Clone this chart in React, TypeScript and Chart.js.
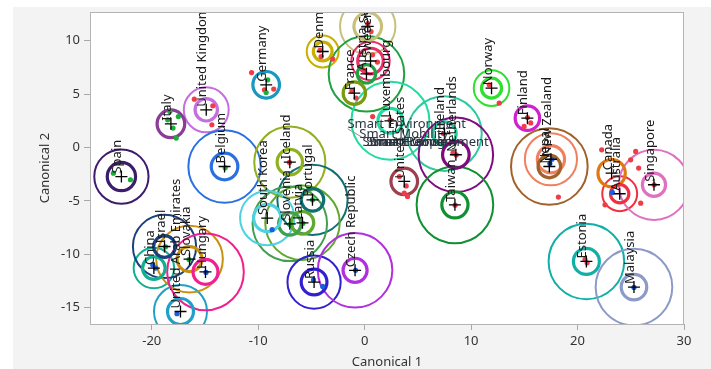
import { useEffect, useRef } from 'react';
import { Chart, registerables } from 'chart.js';

Chart.register(...registerables);

// ---------- data ----------
const countries = [
  'Spain', 'Italy', 'United Kingdom', 'Germany', 'Belgium', 'Denmark', 'Switzerland', 'Sweden',
  'Austria', 'France', 'Luxembourg', 'Ireland', 'Norway', 'Finland', 'New Zealand', 'Nepal',
  'Canada', 'Australia', 'Singapore', 'Netherlands', 'Taiwan', 'United States', 'Iceland',
  'Portugal', 'Latvia', 'Slovenia', 'South Korea', 'Russia', 'Czech Republic', 'Estonia',
  'Malaysia', 'China', 'Israel', 'United Arab Emirates', 'Slovakia', 'Hungary',
];
const centroidX = [
  -22.85, -18.2, -14.88, -9.25, -13.16, -3.94, 0.29, 0.55,
  0.17, -0.97, 2.42, 7.5, 11.92, 15.29, 17.5, 17.35,
  23.2, 23.96, 27.18, 8.57, 8.48, 3.72, -7.03,
  -4.9, -5.84, -7.03, -9.15, -4.75, -0.9, 20.83,
  25.3, -19.8, -18.8, -17.3, -16.45, -14.95,
];
const centroidY = [
  -2.72, 2.22, 3.53, 5.87, -1.78, 8.99, 11.35, 8.1,
  6.9, 5.09, 2.5, 1.3, 5.56, 2.75, -1.1, -1.78,
  -2.4, -4.33, -3.49, -0.68, -5.37, -3.18, -1.37,
  -4.9, -7.05, -7.15, -6.61, -12.6, -11.5, -10.67,
  -13.07, -11.29, -9.27, -15.36, -10.45, -11.65,
];
const innerRadius = [
  1.33, 1.3, 1.05, 1.25, 1.25, 0.88, 1.3, 1.2,
  0.86, 1.05, 1.17, 1.1, 0.94, 1.15, 1.28, 1.06,
  1.28, 0.86, 1.09, 1.25, 1.23, 1.25, 1.19,
  1.06, 1.06, 1.06, 1.28, 1.21, 1.13, 1.22,
  1.2, 1.06, 1.02, 1.22, 1.17, 1.17,
];
const outerRadius = [
  2.55, 1.3, 2.11, 1.25, 3.4, 1.5, 2.6, 1.8,
  3.55, 1.05, 3.66, 3.5, 1.67, 1.15, 2.45, 3.6,
  1.28, 1.64, 3.3, 3.5, 3.6, 1.25, 3.34,
  3.3, 3.5, 3.5, 2.55, 2.5, 3.5, 3.55,
  3.6, 1.9, 2.97, 2.49, 3.13, 3.6,
];
const groupColors = [
  '#3c1c6c', '#8a3c96', '#c46ee0', '#1a98c4', '#2a70e0', '#c8b000', '#c8c078', '#e8306c',
  '#20a040', '#7a9a10', '#20dca0', '#30c8a0', '#30e030', '#d020d0', '#f08060', '#a0622a',
  '#e07a10', '#f03040', '#e070c0', '#800a80', '#109030', '#9c4050', '#90b020',
  '#107070', '#60a830', '#40a050', '#50d0e0', '#3020d0', '#b030e0', '#10b0a8',
  '#8c9ac8', '#10b090', '#1a4080', '#20a0c8', '#c89010', '#f02090',
];

const redPointsX = [-10.62, -9.41, -8.54, -16.0, -14.26, -14.35, -4.09, -3.0, -4.2, 0.6, 0.75, -0.12, 0.3, 1.2, -0.81, -1.2, 0.75, 2.4, 11.7, 12.64, 14.98, 15.3, 15.6, 8.6, 8.3, 8.5, 3.72, 4.03, 3.26, 3.9, -7.06, 18.2, 22.27, 25.46, 24.99, 25.74, 22.58, 25.93, 27.2, 20.9, 20.7, 7.4];
const redPointsY = [7.02, 5.4, 5.47, 4.53, 3.9, 2.13, 8.52, 8.28, 9.1, 10.86, 8.68, 7.28, 11.6, 8.0, 4.63, 5.3, 2.9, 2.6, 5.87, 4.16, 1.97, 2.8, 2.3, -0.7, -0.5, -5.4, -4.27, -4.59, -2.72, -3.6, -1.4, -4.64, -0.22, -0.37, -1.15, -1.93, -5.37, -5.21, -3.5, -10.8, -10.5, 1.3];
const greenPointsX = [-18.3, -18.5, -18.0, -17.7, -17.5, -23.6, -22.0, -9.1, -9.25, -13.1, -4.9, -5.8, -7.0, -18.7, -16.5];
const greenPointsY = [3.37, 2.59, 1.82, 0.88, 2.9, -2.4, -3.02, 6.34, 5.15, -1.9, -4.9, -7.1, -7.2, -9.3, -10.5];
const bluePointsX = [17.6, 17.4, 23.27, 25.3, -0.85, -3.94, -4.8, -8.69, -19.63, -19.9, -17.63, -14.9];
const bluePointsY = [-1.1, -1.5, -4.21, -13.1, -11.5, -13.01, -12.4, -7.7, -11.29, -11.0, -15.57, -11.7];

const rayLabels = ['Smart Environment', 'Smart Mobility', 'Smart Economy', 'Smart People', 'Smart Living', 'Smart Government'];
const rayLabelX = [-1.62, -0.5, -0.2, 0.15, 0.4, 0.7];
const rayLabelY = [1.84, 0.91, 0.16, 0.16, 0.16, 0.16];
const rayStartX = [-1.6];
const rayStartY = [1.75];
const rayEndX = [-0.3];
const rayEndY = [1.0];

const xTicks = [-20, -10, 0, 10, 20, 30];
const yTicks = [-15, -10, -5, 0, 5, 10];
const xMin = -25.8;
const xMax = 30;
const yMin = -16.53;
const yMax = 12.69;

const FONT = "'Noto Sans', 'Segoe UI', sans-serif";

function pxRadius(chart: any, r: number) {
  const s = chart.scales.x;
  if (!s) return 0;
  return Math.abs(s.getPixelForValue(r) - s.getPixelForValue(0));
}

const backgroundPlugin = {
  id: 'bgPanel',
  beforeDraw(chart: any) {
    const { ctx, width, height, chartArea } = chart;
    ctx.save();
    ctx.fillStyle = '#ffffff';
    ctx.fillRect(0, 0, width, height);
    ctx.fillStyle = '#f3f3f3';
    ctx.fillRect(13, 7, width - 13, height - 7);
    ctx.fillStyle = '#ffffff';
    ctx.fillRect(chartArea.left, chartArea.top, chartArea.right - chartArea.left, chartArea.bottom - chartArea.top);
    ctx.restore();
  },
  afterDraw(chart: any) {
    const { ctx, chartArea } = chart;
    ctx.save();
    ctx.strokeStyle = '#b4b4b4';
    ctx.lineWidth = 1;
    ctx.strokeRect(chartArea.left + 0.5, chartArea.top + 0.5, chartArea.right - chartArea.left - 1, chartArea.bottom - chartArea.top);
    ctx.restore();
  },
};

const labelsPlugin = {
  id: 'groupLabels',
  afterDatasetsDraw(chart: any) {
    const { ctx, chartArea, scales } = chart;
    const xs = scales.x;
    const ys = scales.y;
    ctx.save();
    ctx.beginPath();
    ctx.rect(chartArea.left, chartArea.top, chartArea.right - chartArea.left, chartArea.bottom - chartArea.top);
    ctx.clip();
    // rays
    ctx.strokeStyle = '#909090';
    ctx.lineWidth = 1;
    for (let i = 0; i < rayStartX.length; i++) {
      ctx.beginPath();
      ctx.moveTo(xs.getPixelForValue(rayStartX[i]), ys.getPixelForValue(rayStartY[i]));
      ctx.lineTo(xs.getPixelForValue(rayEndX[i]), ys.getPixelForValue(rayEndY[i]));
      ctx.stroke();
    }
    ctx.font = `13px ${FONT}`;
    ctx.fillStyle = '#2a3440';
    ctx.textAlign = 'left';
    ctx.textBaseline = 'alphabetic';
    for (let i = 0; i < rayLabels.length; i++) {
      ctx.fillText(rayLabels[i], xs.getPixelForValue(rayLabelX[i]), ys.getPixelForValue(rayLabelY[i]));
    }
    // country labels, rotated
    ctx.fillStyle = '#1a1a1a';
    for (let i = 0; i < countries.length; i++) {
      const px = xs.getPixelForValue(centroidX[i]);
      const py = ys.getPixelForValue(centroidY[i]);
      ctx.save();
      ctx.translate(px, py - 3);
      ctx.rotate(-Math.PI / 2);
      ctx.fillText(countries[i], 0, 0);
      ctx.restore();
    }
    ctx.restore();
  },
};

export default function App() {
  const ref = useRef<HTMLCanvasElement | null>(null);

  useEffect(() => {
    if (!ref.current) return;
    const centroids = countries.map((_, i) => ({ x: centroidX[i], y: centroidY[i] }));
    const chart = new Chart(ref.current, {
      type: 'scatter',
      data: {
        datasets: [
          {
            data: centroids,
            order: 6,
            pointStyle: 'circle',
            pointRadius: (c: any) => pxRadius(c.chart, outerRadius[c.dataIndex]),
            pointBorderWidth: 2,
            pointBorderColor: groupColors,
            pointBackgroundColor: 'rgba(0,0,0,0)',
          } as any,
          {
            data: centroids,
            order: 5,
            pointStyle: 'circle',
            pointRadius: (c: any) => pxRadius(c.chart, innerRadius[c.dataIndex]),
            pointBorderWidth: 3.2,
            pointBorderColor: groupColors,
            pointBackgroundColor: 'rgba(0,0,0,0)',
          } as any,
          {
            data: redPointsX.map((x, i) => ({ x, y: redPointsY[i] })),
            order: 4,
            pointRadius: 2.6,
            pointBorderWidth: 0,
            pointBackgroundColor: '#f03c48',
          },
          {
            data: greenPointsX.map((x, i) => ({ x, y: greenPointsY[i] })),
            order: 3,
            pointRadius: 2.6,
            pointBorderWidth: 0,
            pointBackgroundColor: '#18b038',
          },
          {
            data: bluePointsX.map((x, i) => ({ x, y: bluePointsY[i] })),
            order: 2,
            pointRadius: 2.6,
            pointBorderWidth: 0,
            pointBackgroundColor: '#1a5ee0',
          },
          {
            data: centroids,
            order: 1,
            pointStyle: 'cross',
            pointRadius: 6,
            pointBorderWidth: 1.3,
            pointBorderColor: '#000000',
          },
        ],
      },
      options: {
        animation: false,
        responsive: false,
        events: [],
        layout: { padding: { left: 0, right: 27, top: 12, bottom: 0 } },
        plugins: { legend: { display: false }, tooltip: { enabled: false } },
        scales: {
          x: {
            type: 'linear',
            min: xMin,
            max: xMax,
            afterBuildTicks: (s: any) => { s.ticks = xTicks.map((v) => ({ value: v })); },
            afterFit: (s: any) => { s.height = 45; },
            grid: { drawOnChartArea: false, drawTicks: true, tickLength: 6, color: '#a8a8a8' },
            border: { color: '#a8a8a8' },
            ticks: { color: '#333333', font: { family: FONT, size: 13 }, padding: 3, maxRotation: 0, autoSkip: false },
            title: { display: true, text: 'Canonical 1', color: '#333333', font: { family: FONT, size: 13 }, padding: { top: 0, bottom: -1 } },
          },
          y: {
            type: 'linear',
            min: yMin,
            max: yMax,
            afterBuildTicks: (s: any) => { s.ticks = yTicks.map((v) => ({ value: v })); },
            afterFit: (s: any) => { s.width = 90; },
            grid: { drawOnChartArea: false, drawTicks: true, tickLength: 6, color: '#a8a8a8' },
            border: { color: '#a8a8a8' },
            ticks: { color: '#333333', font: { family: FONT, size: 13 }, padding: 4, autoSkip: false },
            title: { display: true, text: 'Canonical 2', color: '#333333', font: { family: FONT, size: 13 }, padding: { top: 37, bottom: 0 } },
          },
        },
      } as any,
      plugins: [backgroundPlugin, labelsPlugin],
    });
    return () => chart.destroy();
  }, []);

  return (
    <div style={{ position: 'absolute', left: 0, top: 0, width: 711, height: 369, background: '#ffffff' }}>
      <canvas ref={ref} width={711} height={369} style={{ width: 711, height: 369, display: 'block' }} />
    </div>
  );
}
